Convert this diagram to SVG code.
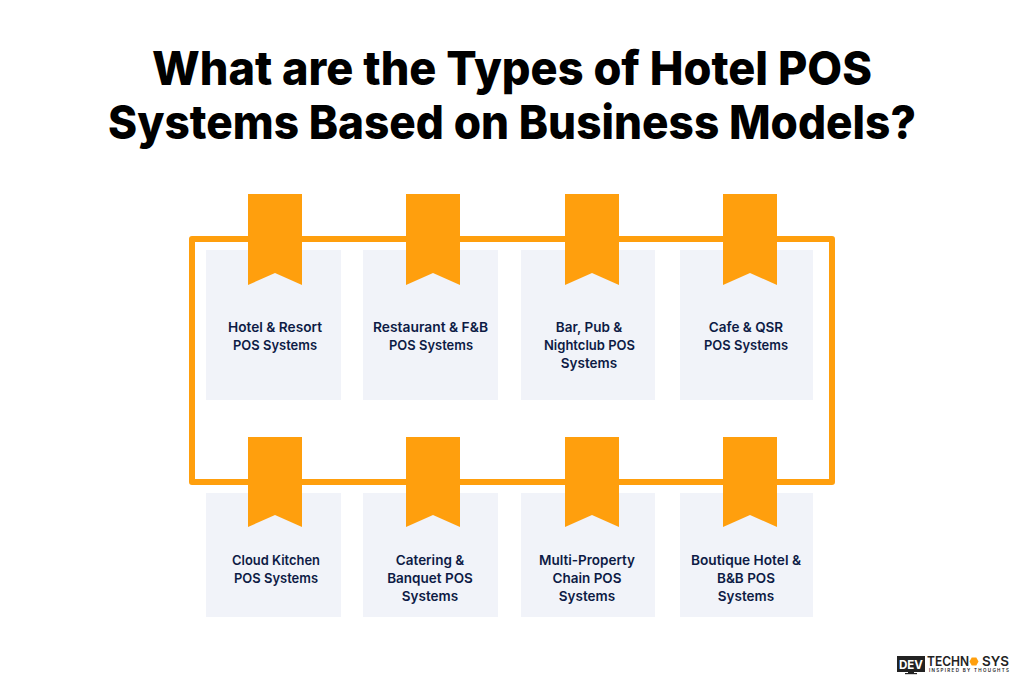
<svg xmlns="http://www.w3.org/2000/svg" width="1024" height="690" viewBox="0 0 1024 690">
<style>
.title{font:800 47px Inter,"Liberation Sans",sans-serif;fill:#000;text-anchor:middle}
.card{fill:#f1f3f9}
.rib{fill:#ff9f0d}
.lab{font:600 13.5px Inter,"Liberation Sans",sans-serif;fill:#0d1b45;text-anchor:middle}
.frame{fill:none;stroke:#ff9f0d;stroke-width:6;stroke-linejoin:round}
.lg{font-family:Inter,"Liberation Sans",sans-serif;font-weight:600;fill:#222}
</style>
<defs>
<path id="r1" class="rib" d="M0 0H54V91L27 79L0 91Z"/>
<path id="r2" class="rib" d="M0 0H54V90L27 78L0 90Z"/>
</defs>
<rect width="1024" height="690" fill="#fff"/>
<g id="title">
<text class="title" x="512" y="85" textLength="720" lengthAdjust="spacingAndGlyphs">What are the Types of Hotel POS</text>
<text class="title" x="512" y="139" textLength="808" lengthAdjust="spacingAndGlyphs">Systems Based on Business Models?</text>
</g>
<g id="connectors"><rect class="frame" x="192" y="239" width="640" height="243"/></g>
<g id="n1"><rect class="card" x="206" y="250" width="135" height="150"/><use href="#r1" x="248" y="194"/><text class="lab" x="275" y="332" textLength="94" lengthAdjust="spacingAndGlyphs">Hotel &amp; Resort</text><text class="lab" x="275" y="350" textLength="84" lengthAdjust="spacingAndGlyphs">POS Systems</text></g>
<g id="n2"><rect class="card" x="363" y="250" width="135" height="150"/><use href="#r1" x="406" y="194"/><text class="lab" x="430.500" y="332" textLength="115" lengthAdjust="spacingAndGlyphs">Restaurant &amp; F&amp;B</text><text class="lab" x="431" y="350" textLength="84" lengthAdjust="spacingAndGlyphs">POS Systems</text></g>
<g id="n3"><rect class="card" x="521" y="250" width="134" height="150"/><use href="#r1" x="565" y="194"/><text class="lab" x="589" y="332">Bar, Pub &amp;</text><text class="lab" x="589.500" y="350" textLength="91" lengthAdjust="spacingAndGlyphs">Nightclub POS</text><text class="lab" x="589" y="368">Systems</text></g>
<g id="n4"><rect class="card" x="680" y="250" width="133" height="150"/><use href="#r1" x="723" y="194"/><text class="lab" x="746" y="332">Cafe &amp; QSR</text><text class="lab" x="746" y="350" textLength="84" lengthAdjust="spacingAndGlyphs">POS Systems</text></g>
<g id="n5"><rect class="card" x="206" y="493" width="135" height="124"/><use href="#r2" x="248" y="437"/><text class="lab" x="276" y="565" textLength="88" lengthAdjust="spacingAndGlyphs">Cloud Kitchen</text><text class="lab" x="276" y="583" textLength="84" lengthAdjust="spacingAndGlyphs">POS Systems</text></g>
<g id="n6"><rect class="card" x="363" y="493" width="135" height="124"/><use href="#r2" x="406" y="437"/><text class="lab" x="430" y="565">Catering &amp;</text><text class="lab" x="430" y="583">Banquet POS</text><text class="lab" x="430" y="601">Systems</text></g>
<g id="n7"><rect class="card" x="521" y="493" width="134" height="124"/><use href="#r2" x="565" y="437"/><text class="lab" x="587" y="565">Multi-Property</text><text class="lab" x="587" y="583">Chain POS</text><text class="lab" x="587" y="601">Systems</text></g>
<g id="n8"><rect class="card" x="680" y="493" width="133" height="124"/><use href="#r2" x="723" y="437"/><text class="lab" x="746" y="565" textLength="110" lengthAdjust="spacingAndGlyphs">Boutique Hotel &amp;</text><text class="lab" x="746" y="583">B&amp;B POS</text><text class="lab" x="746" y="601">Systems</text></g>
<g id="logo">
<rect x="897" y="656" width="28" height="16" fill="#222"/>
<rect x="908" y="672" width="6" height="2" fill="#222"/>
<rect x="905" y="673" width="12" height="1.200" fill="#222"/>
<text x="899" y="669" font-family="Inter,'Liberation Sans',sans-serif" font-weight="700" font-size="12" fill="#fff" textLength="24" lengthAdjust="spacingAndGlyphs">DEV</text>
<text class="lg" x="927" y="666" font-size="13" textLength="42" lengthAdjust="spacingAndGlyphs">TECHN</text>
<path d="M969.500 661.500l2.200-4h4.600l2.200 4l-2.200 4h-4.600z" fill="#ff9f0d"/>
<text class="lg" x="982" y="666" font-size="13" textLength="27" lengthAdjust="spacingAndGlyphs">SYS</text>
<text class="lg" x="929" y="671.500" font-size="4.500" textLength="80" lengthAdjust="spacing">INSPIRED BY THOUGHTS</text>
</g>
</svg>
